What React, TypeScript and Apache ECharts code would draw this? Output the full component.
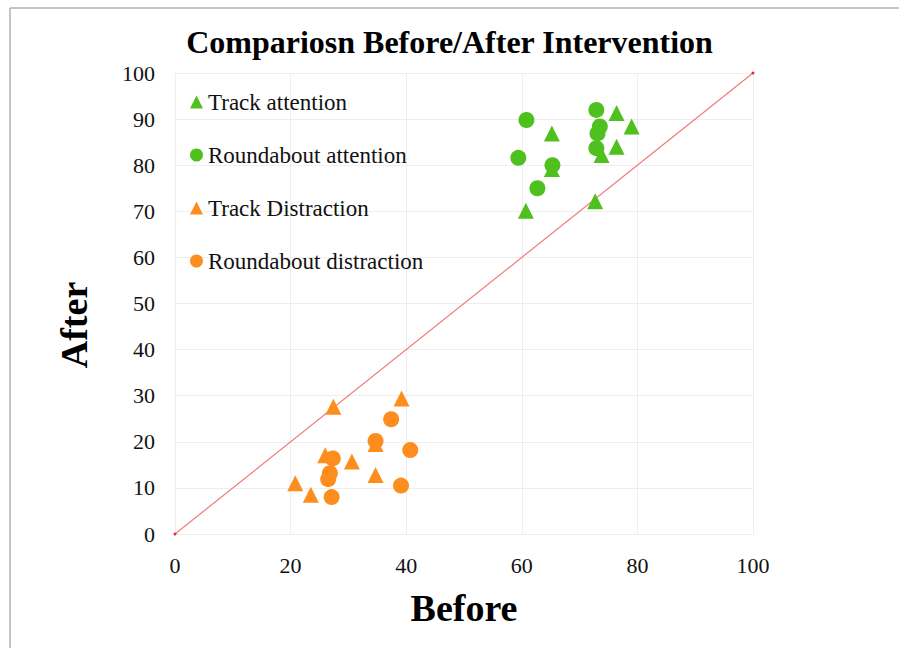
import React, { useEffect, useRef } from "react";
import * as echarts from "echarts";

const titleText = "Compariosn Before/After Intervention";
const xAxisName = "Before";
const yAxisName = "After";

const trackAttention: [number, number][] = [
  [65.2, 86.9], [65.2, 79.2], [60.7, 70.1], [76.4, 91.3],
  [79.0, 88.4], [76.4, 84.0], [73.8, 82.2], [72.7, 72.2],
];
const roundaboutAttention: [number, number][] = [
  [60.8, 89.8], [59.4, 81.6], [65.3, 80.0], [62.7, 75.0],
  [72.9, 92.0], [73.5, 88.4], [73.1, 86.9], [72.9, 83.7],
];
const trackDistraction: [number, number][] = [
  [27.4, 27.6], [26.0, 17.1], [20.8, 11.0], [23.5, 8.5],
  [30.6, 15.7], [39.2, 29.4], [34.7, 19.5], [34.7, 12.8],
];
const roundaboutDistraction: [number, number][] = [
  [27.3, 16.4], [26.8, 13.2], [26.5, 11.9], [27.1, 8.0],
  [37.4, 24.9], [34.7, 20.2], [40.7, 18.2], [39.1, 10.5],
];
const diagonal: [number, number][] = [[0, 0], [100, 100]];

const GREEN = "#4fc11f";
const ORANGE = "#fd8d1c";
const FONT = "'Liberation Serif', 'Times New Roman', serif";

export default function App() {
  const ref = useRef<HTMLDivElement>(null);
  useEffect(() => {
    if (!ref.current) return;
    const chart = echarts.init(ref.current, null, { renderer: "svg" });
    chart.setOption({
      animation: false,
      backgroundColor: "#ffffff",
      title: {
        text: titleText,
        left: "center",
        top: 21,
        textStyle: { fontFamily: FONT, fontSize: 32, fontWeight: "bold", color: "#000" },
      },
      legend: {
        orient: "vertical",
        left: 185,
        top: 85,
        itemWidth: 13,
        itemHeight: 13,
        itemGap: 29,
        data: [
          { name: "Track attention", icon: "triangle" },
          { name: "Roundabout attention", icon: "circle" },
          { name: "Track Distraction", icon: "triangle" },
          { name: "Roundabout distraction", icon: "circle" },
        ],
        textStyle: { fontFamily: FONT, fontSize: 23, color: "#111", lineHeight: 24 },
      },
      grid: { left: 175, right: 146, top: 73, bottom: 114, containLabel: false },
      xAxis: {
        type: "value",
        min: 0,
        max: 100,
        interval: 20,
        name: xAxisName,
        nameLocation: "middle",
        nameGap: 55,
        nameTextStyle: { fontFamily: FONT, fontSize: 38, fontWeight: "bold", color: "#000" },
        axisLine: { show: false },
        axisTick: { show: false },
        axisLabel: { fontFamily: FONT, fontSize: 22, color: "#111", margin: 20 },
        splitLine: { lineStyle: { color: "#eeeeee" } },
      },
      yAxis: {
        type: "value",
        min: 0,
        max: 100,
        interval: 10,
        axisLine: { show: false },
        axisTick: { show: false },
        axisLabel: { fontFamily: FONT, fontSize: 22, color: "#111", margin: 20 },
        splitLine: { lineStyle: { color: "#eeeeee" } },
      },
      graphic: [
        {
          type: "line",
          shape: { x1: 10, y1: 8, x2: 899, y2: 8 },
          style: { stroke: "#b0b0b0", lineWidth: 1.5 },
        },
        {
          type: "line",
          shape: { x1: 10, y1: 8, x2: 10, y2: 648 },
          style: { stroke: "#b0b0b0", lineWidth: 1.5 },
        },
        {
          type: "text",
          x: 74,
          y: 325,
          rotation: Math.PI / 2,
          style: {
            text: yAxisName,
            fontFamily: FONT,
            fontSize: 38,
            fontWeight: "bold",
            fill: "#000",
            align: "center",
            verticalAlign: "middle",
          },
        },
      ],
      series: [
        {
          name: "diagonal",
          type: "line",
          data: diagonal,
          symbol: "circle",
          symbolSize: 3,
          showSymbol: true,
          itemStyle: { color: "#e8262a" },
          lineStyle: { color: "#f07a7a", width: 1.2 },
          z: 1,
        },
        {
          name: "Track attention",
          type: "scatter",
          symbol: "triangle",
          symbolSize: 16,
          data: trackAttention,
          itemStyle: { color: GREEN, opacity: 1 },
          z: 3,
        },
        {
          name: "Roundabout attention",
          type: "scatter",
          symbol: "circle",
          symbolSize: 16,
          data: roundaboutAttention,
          itemStyle: { color: GREEN, opacity: 1 },
          z: 3,
        },
        {
          name: "Track Distraction",
          type: "scatter",
          symbol: "triangle",
          symbolSize: 16,
          data: trackDistraction,
          itemStyle: { color: ORANGE, opacity: 1 },
          z: 3,
        },
        {
          name: "Roundabout distraction",
          type: "scatter",
          symbol: "circle",
          symbolSize: 16,
          data: roundaboutDistraction,
          itemStyle: { color: ORANGE, opacity: 1 },
          z: 3,
        },
      ],
    });
    return () => chart.dispose();
  }, []);
  return (
    <div
      ref={ref}
      style={{ position: "fixed", left: 0, top: 0, width: 899, height: 648, background: "#fff" }}
    />
  );
}
